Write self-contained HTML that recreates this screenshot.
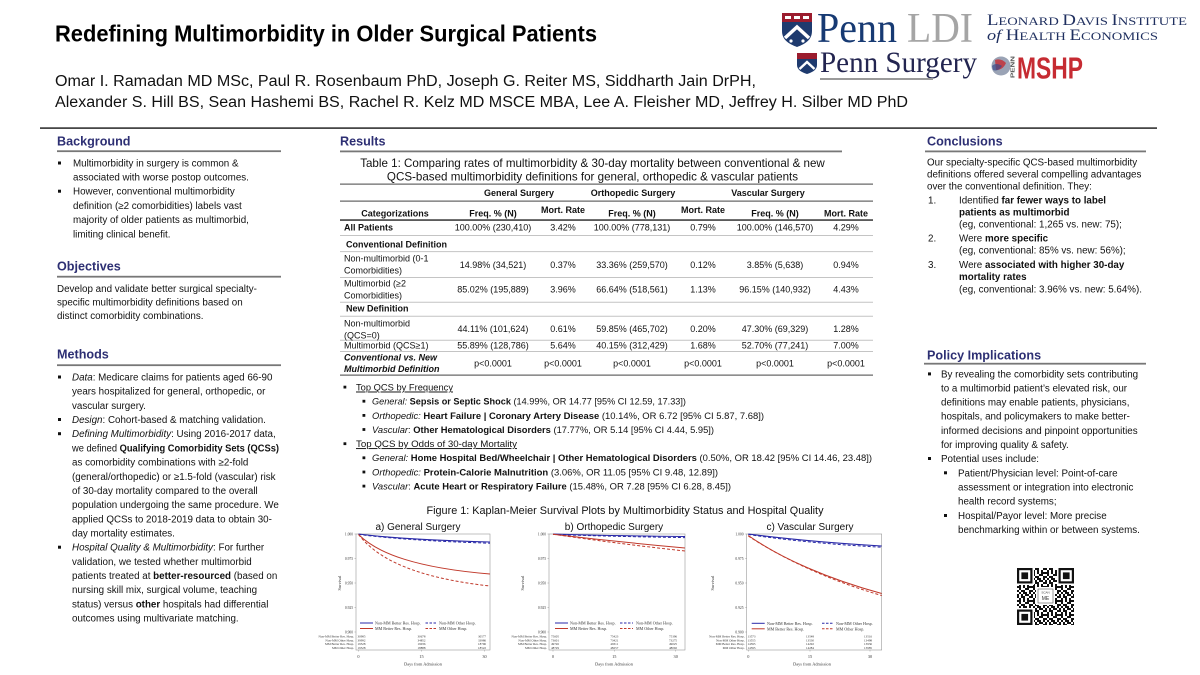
<!DOCTYPE html>
<html><head><meta charset="utf-8">
<style>
html,body{margin:0;padding:0;background:#fff;}
svg{display:block;font-family:"Liberation Sans",Arial,sans-serif;}
.b{font-size:9.8px;fill:#111;}
.r{font-size:9.6px;fill:#111;}
.h{font-size:12.6px;font-weight:bold;fill:#2d2f73;}
.t{font-size:9px;fill:#111;}
.tb{font-size:9px;fill:#111;font-weight:bold;}
.s{font-family:"Liberation Serif",serif;fill:#333;}
.sf{font-family:"Liberation Serif",serif;}
</style></head><body>
<svg width="1200" height="675" viewBox="0 0 1200 675" xmlns="http://www.w3.org/2000/svg">
<rect width="1200" height="675" fill="#fff"/>

<!-- Title & authors -->
<text x="55" y="41.5" font-size="23" font-weight="bold" fill="#000" textLength="542" lengthAdjust="spacingAndGlyphs">Redefining Multimorbidity in Older Surgical Patients</text>
<text x="55" y="86" font-size="15.5" fill="#111" textLength="701" lengthAdjust="spacingAndGlyphs">Omar I. Ramadan MD MSc, Paul R. Rosenbaum PhD, Joseph G. Reiter MS, Siddharth Jain DrPH,</text>
<text x="55" y="107" font-size="15.5" fill="#111" textLength="853" lengthAdjust="spacingAndGlyphs">Alexander S. Hill BS, Sean Hashemi BS, Rachel R. Kelz MD MSCE MBA, Lee A. Fleisher MD, Jeffrey H. Silber MD PhD</text>

<!-- Logos -->
<g>
  <path d="M782,13 H812 V31 C812,40 805,44 797,47 C789,44 782,40 782,31 Z" fill="#1e3a6e"/>
  <path d="M782,13 H812 V22 H782 Z" fill="#9b1c2e"/>
  <rect x="785" y="16" width="6" height="3" fill="#fff"/><rect x="794" y="16" width="6" height="3" fill="#fff"/><rect x="803" y="16" width="6" height="3" fill="#fff"/>
  <path d="M785,38 L797,27 L809,38" stroke="#fff" stroke-width="3.5" fill="none"/>
  <circle cx="791" cy="41" r="1.6" fill="#fff"/><circle cx="803" cy="41" r="1.6" fill="#fff"/>
  <text x="817" y="42" class="sf" font-size="42" fill="#173a73" textLength="80" lengthAdjust="spacingAndGlyphs">Penn</text>
  <text x="907" y="42" class="sf" font-size="42" fill="#a5a5a5" textLength="66" lengthAdjust="spacingAndGlyphs">LDI</text>
  <text x="987" y="25" class="sf" fill="#1f2f5f" textLength="200" lengthAdjust="spacingAndGlyphs"><tspan font-size="15.5">L</tspan><tspan font-size="12">EONARD </tspan><tspan font-size="15.5">D</tspan><tspan font-size="12">AVIS </tspan><tspan font-size="15.5">I</tspan><tspan font-size="12">NSTITUTE</tspan></text>
  <text x="987" y="40" class="sf" fill="#1f2f5f" textLength="171" lengthAdjust="spacingAndGlyphs"><tspan font-size="15" font-style="italic">of </tspan><tspan font-size="15.5">H</tspan><tspan font-size="12">EALTH </tspan><tspan font-size="15.5">E</tspan><tspan font-size="12">CONOMICS</tspan></text>

  <path d="M797,53 H817 V65 C817,70 812,72.5 807,74 C802,72.5 797,70 797,65 Z" fill="#1e3a6e"/>
  <path d="M797,53 H817 V59 H797 Z" fill="#9b1c2e"/>
  <path d="M799.5,69 L807,62 L814.5,69" stroke="#fff" stroke-width="2.4" fill="none"/>
  <text x="820" y="72" class="sf" font-size="30" fill="#232550" textLength="157" lengthAdjust="spacingAndGlyphs">Penn Surgery</text>
  <rect x="820" y="78" width="113" height="2" fill="#9a9a9a"/>

  <circle cx="1001" cy="66" r="9.5" fill="#9aa3b5"/>
  <path d="M995,60 Q1001,58 1006,63 Q1003,70 996,70 Z" fill="#c62b32" opacity=".8"/>
  <path d="M992,66 Q996,62 1002,66 Q998,72 993,70 Z" fill="#3b4a8a" opacity=".7"/>
  <text transform="translate(1014.5,78) rotate(-90)" font-size="5.5" font-weight="bold" fill="#555" textLength="22" lengthAdjust="spacingAndGlyphs">PENN</text>
  <text x="1017" y="78.5" font-size="31" font-weight="bold" fill="#c62b32" textLength="66" lengthAdjust="spacingAndGlyphs">MSHP</text>
</g>

<rect x="40" y="127.3" width="1117" height="1.6" fill="#333"/>

<!-- LEFT COLUMN -->
<text x="57" y="145.7" class="h">Background</text>
<rect x="57" y="150.3" width="224" height="1.8" fill="#777"/>
<rect x="58" y="161.5" width="3" height="3" fill="#111"/>
<rect x="58" y="189.7" width="3" height="3" fill="#111"/>
<g class="b">
<text x="73" y="166.3">Multimorbidity in surgery is common &amp;</text>
<text x="73" y="180.5">associated with worse postop outcomes.</text>
<text x="73" y="194.7">However, conventional multimorbidity</text>
<text x="73" y="208.9">definition (≥2 comorbidities) labels vast</text>
<text x="73" y="223.1">majority of older patients as multimorbid,</text>
<text x="73" y="237.3">limiting clinical benefit.</text>
</g>

<text x="57" y="270.7" class="h">Objectives</text>
<rect x="57" y="275.8" width="224" height="1.8" fill="#777"/>
<g class="b">
<text x="57" y="292">Develop and validate better surgical specialty-</text>
<text x="57" y="305.6">specific multimorbidity definitions based on</text>
<text x="57" y="319.2">distinct comorbidity combinations.</text>
</g>

<text x="57" y="358.3" class="h">Methods</text>
<rect x="57" y="364.3" width="224" height="1.8" fill="#777"/>
<rect x="58" y="375.5" width="3" height="3" fill="#111"/>
<rect x="58" y="418" width="3" height="3" fill="#111"/>
<rect x="58" y="432.2" width="3" height="3" fill="#111"/>
<rect x="58" y="545.7" width="3" height="3" fill="#111"/>
<g class="b">
<text x="72" y="380.5"><tspan font-style="italic">Data</tspan>: Medicare claims for patients aged 66-90</text>
<text x="72" y="394.7">years hospitalized for general, orthopedic, or</text>
<text x="72" y="408.9">vascular surgery.</text>
<text x="72" y="423"><tspan font-style="italic">Design</tspan>: Cohort-based &amp; matching validation.</text>
<text x="72" y="437.2"><tspan font-style="italic">Defining Multimorbidity</tspan>: Using 2016-2017 data,</text>
<text x="72" y="451.4" textLength="207" lengthAdjust="spacingAndGlyphs">we defined <tspan font-weight="bold">Qualifying Comorbidity Sets (QCSs)</tspan></text>
<text x="72" y="465.6">as comorbidity combinations with ≥2-fold</text>
<text x="72" y="479.8">(general/orthopedic) or ≥1.5-fold (vascular) risk</text>
<text x="72" y="493.9">of 30-day mortality compared to the overall</text>
<text x="72" y="508.1">population undergoing the same procedure. We</text>
<text x="72" y="522.3">applied QCSs to 2018-2019 data to obtain 30-</text>
<text x="72" y="536.5">day mortality estimates.</text>
<text x="72" y="550.7"><tspan font-style="italic">Hospital Quality &amp; Multimorbidity</tspan>: For further</text>
<text x="72" y="564.8">validation, we tested whether multimorbid</text>
<text x="72" y="579">patients treated at <tspan font-weight="bold">better-resourced</tspan> (based on</text>
<text x="72" y="593.2">nursing skill mix, surgical volume, teaching</text>
<text x="72" y="607.4">status) versus <tspan font-weight="bold">other</tspan> hospitals had differential</text>
<text x="72" y="621.6">outcomes using multivariate matching.</text>
</g>

<!-- MIDDLE COLUMN -->
<text x="340" y="145.7" class="h">Results</text>
<rect x="340" y="150.5" width="502" height="1.8" fill="#777"/>
<text x="592.5" y="167" font-size="11.6" fill="#111" text-anchor="middle">Table 1: Comparing rates of multimorbidity &amp; 30-day mortality between conventional &amp; new</text>
<text x="592.5" y="180.5" font-size="11.6" fill="#111" text-anchor="middle">QCS-based multimorbidity definitions for general, orthopedic &amp; vascular patients</text>

<!-- table lines -->
<rect x="340" y="183.6" width="533" height="1" fill="#444"/>
<rect x="340" y="200.6" width="533" height="1" fill="#444"/>
<rect x="340" y="219.3" width="533" height="1.5" fill="#333"/>
<g fill="#b5b5b5">
<rect x="340" y="235" width="533" height=".8"/>
<rect x="340" y="251.3" width="533" height=".8"/>
<rect x="340" y="277" width="533" height=".8"/>
<rect x="340" y="301.8" width="533" height=".8"/>
<rect x="340" y="315.8" width="533" height=".8"/>
<rect x="340" y="339.8" width="533" height=".8"/>
<rect x="340" y="351" width="533" height=".8"/>
</g>
<rect x="340" y="374.6" width="533" height="1" fill="#444"/>

<g class="tb" text-anchor="middle">
<text x="519" y="196">General Surgery</text>
<text x="633" y="196">Orthopedic Surgery</text>
<text x="768" y="196">Vascular Surgery</text>
<text x="395" y="216.5">Categorizations</text>
<text x="493" y="216.5">Freq. % (N)</text>
<text x="563" y="213">Mort. Rate</text>
<text x="632" y="216.5">Freq. % (N)</text>
<text x="703" y="213">Mort. Rate</text>
<text x="775" y="216.5">Freq. % (N)</text>
<text x="846" y="216.5">Mort. Rate</text>
</g>
<g class="t">
<text x="344" y="230.5" font-weight="bold">All Patients</text>
<text x="346" y="247.5" font-weight="bold">Conventional Definition</text>
<text x="344" y="261.5">Non-multimorbid (0-1</text>
<text x="344" y="273.5">Comorbidities)</text>
<text x="344" y="286.5">Multimorbid (≥2</text>
<text x="344" y="298.5">Comorbidities)</text>
<text x="346" y="311.5" font-weight="bold">New Definition</text>
<text x="344" y="326.5">Non-multimorbid</text>
<text x="344" y="338.5">(QCS=0)</text>
<text x="344" y="348.5">Multimorbid (QCS≥1)</text>
<text x="344" y="360.5" font-weight="bold" font-style="italic">Conventional vs. New</text>
<text x="344" y="372" font-weight="bold" font-style="italic">Multimorbid Definition</text>
</g>
<g class="t" text-anchor="middle">
<text x="493" y="230.5">100.00% (230,410)</text><text x="563" y="230.5">3.42%</text><text x="632" y="230.5">100.00% (778,131)</text><text x="703" y="230.5">0.79%</text><text x="775" y="230.5">100.00% (146,570)</text><text x="846" y="230.5">4.29%</text>
<text x="493" y="268">14.98% (34,521)</text><text x="563" y="268">0.37%</text><text x="632" y="268">33.36% (259,570)</text><text x="703" y="268">0.12%</text><text x="775" y="268">3.85% (5,638)</text><text x="846" y="268">0.94%</text>
<text x="493" y="292.5">85.02% (195,889)</text><text x="563" y="292.5">3.96%</text><text x="632" y="292.5">66.64% (518,561)</text><text x="703" y="292.5">1.13%</text><text x="775" y="292.5">96.15% (140,932)</text><text x="846" y="292.5">4.43%</text>
<text x="493" y="332">44.11% (101,624)</text><text x="563" y="332">0.61%</text><text x="632" y="332">59.85% (465,702)</text><text x="703" y="332">0.20%</text><text x="775" y="332">47.30% (69,329)</text><text x="846" y="332">1.28%</text>
<text x="493" y="348.5">55.89% (128,786)</text><text x="563" y="348.5">5.64%</text><text x="632" y="348.5">40.15% (312,429)</text><text x="703" y="348.5">1.68%</text><text x="775" y="348.5">52.70% (77,241)</text><text x="846" y="348.5">7.00%</text>
<text x="493" y="366.5">p&lt;0.0001</text><text x="563" y="366.5">p&lt;0.0001</text><text x="632" y="366.5">p&lt;0.0001</text><text x="703" y="366.5">p&lt;0.0001</text><text x="775" y="366.5">p&lt;0.0001</text><text x="846" y="366.5">p&lt;0.0001</text>
</g>

<!-- Results bullets -->
<g fill="#111">
<rect x="343.5" y="385.7" width="2.8" height="2.8"/>
<rect x="362.5" y="399.8" width="2.8" height="2.8"/>
<rect x="362.5" y="414" width="2.8" height="2.8"/>
<rect x="362.5" y="428.1" width="2.8" height="2.8"/>
<rect x="343.5" y="442.3" width="2.8" height="2.8"/>
<rect x="362.5" y="456.4" width="2.8" height="2.8"/>
<rect x="362.5" y="470.6" width="2.8" height="2.8"/>
<rect x="362.5" y="484.7" width="2.8" height="2.8"/>
</g>
<g class="r">
<text x="356" y="390.5" text-decoration="underline" textLength="97" lengthAdjust="spacingAndGlyphs">Top QCS by Frequency</text>
<text x="372" y="404.6" textLength="314" lengthAdjust="spacingAndGlyphs"><tspan font-style="italic">General:</tspan> <tspan font-weight="bold">Sepsis or Septic Shock</tspan> (14.99%, OR 14.77 [95% CI 12.59, 17.33])</text>
<text x="372" y="418.8" textLength="392" lengthAdjust="spacingAndGlyphs"><tspan font-style="italic">Orthopedic:</tspan> <tspan font-weight="bold">Heart Failure | Coronary Artery Disease</tspan> (10.14%, OR 6.72 [95% CI 5.87, 7.68])</text>
<text x="372" y="432.9" textLength="342" lengthAdjust="spacingAndGlyphs"><tspan font-style="italic">Vascular</tspan>: <tspan font-weight="bold">Other Hematological Disorders</tspan> (17.77%, OR 5.14 [95% CI 4.44, 5.95])</text>
<text x="356" y="447.1" text-decoration="underline" textLength="161" lengthAdjust="spacingAndGlyphs">Top QCS by Odds of 30-day Mortality</text>
<text x="372" y="461.2" textLength="500" lengthAdjust="spacingAndGlyphs"><tspan font-style="italic">General:</tspan> <tspan font-weight="bold">Home Hospital Bed/Wheelchair | Other Hematological Disorders</tspan> (0.50%, OR 18.42 [95% CI 14.46, 23.48])</text>
<text x="372" y="475.4" textLength="346" lengthAdjust="spacingAndGlyphs"><tspan font-style="italic">Orthopedic:</tspan> <tspan font-weight="bold">Protein-Calorie Malnutrition</tspan> (3.06%, OR 11.05 [95% CI 9.48, 12.89])</text>
<text x="372" y="489.5" textLength="359" lengthAdjust="spacingAndGlyphs"><tspan font-style="italic">Vascular</tspan>: <tspan font-weight="bold">Acute Heart or Respiratory Failure</tspan> (15.48%, OR 7.28 [95% CI 6.28, 8.45])</text>
</g>

<text x="625" y="514" font-size="10.7" fill="#111" text-anchor="middle" textLength="397" lengthAdjust="spacingAndGlyphs">Figure 1: Kaplan-Meier Survival Plots by Multimorbidity Status and Hospital Quality</text>
<g font-size="10" fill="#111" text-anchor="middle">
<text x="418" y="530">a) General Surgery</text>
<text x="614" y="530">b) Orthopedic Surgery</text>
<text x="810" y="530">c) Vascular Surgery</text>
</g>

<!-- Plot a -->
<g>
<rect x="356" y="534" width="134" height="116" fill="none" stroke="#999" stroke-width=".6"/>
<g stroke="#999" stroke-width=".5"><path d="M356,534h-1.5M356,558.5h-1.5M356,583h-1.5M356,607.5h-1.5M356,632h-1.5M358.5,650v1.5M421.5,650v1.5M484.5,650v1.5"/></g>
<g class="s" font-size="3.6" text-anchor="end"><text x="353" y="535.3">1.000</text><text x="353" y="559.8">0.975</text><text x="353" y="584.3">0.950</text><text x="353" y="608.8">0.925</text><text x="353" y="633.3">0.900</text></g>
<text class="s" font-size="4.4" transform="translate(341,583) rotate(-90)" text-anchor="middle">Survival</text>
<path d="M358.5,534 C378,536.5 418,540 490,542" stroke="#2a2aa8" stroke-width="1.1" fill="none"/>
<path d="M358.5,534.4 C378,537 418,541 490,543.2" stroke="#2a2aa8" stroke-width="1" fill="none" stroke-dasharray="3,2"/>
<path d="M358.5,534.5 C378.2,554 417.7,568 490,574" stroke="#c0392b" stroke-width="1" fill="none"/>
<path d="M358.5,534.5 C378.2,560 417.7,578 490,586" stroke="#c0392b" stroke-width="1" fill="none" stroke-dasharray="3,2"/>
<path d="M360,623 h13" stroke="#2a2aa8" stroke-width="1"/><path d="M425.5,623 h12" stroke="#2a2aa8" stroke-width="1" stroke-dasharray="2.5,1.5"/>
<path d="M360,628.5 h13" stroke="#c0392b" stroke-width="1"/><path d="M425.5,628.5 h12" stroke="#c0392b" stroke-width="1" stroke-dasharray="2.5,1.5"/>
<g class="s" font-size="4.1"><text x="375" y="624.5">Non-MM Better Res. Hosp.</text><text x="439" y="624.5">Non-MM Other Hosp.</text><text x="375" y="630">MM Better Res. Hosp.</text><text x="439" y="630">MM Other Hosp.</text></g>
<g class="s" font-size="3.2">
<g text-anchor="end"><text x="354" y="637.5">Non-MM Better Res. Hosp.</text><text x="354" y="641.3">Non-MM Other Hosp.</text><text x="354" y="645.1">MM Better Res. Hosp.</text><text x="354" y="648.9">MM Other Hosp.</text></g>
<g><text x="357.5" y="637.5">30985</text><text x="357.5" y="641.3">39992</text><text x="357.5" y="645.1">19528</text><text x="357.5" y="648.9">19528</text></g>
<g text-anchor="middle"><text x="421.5" y="637.5">30678</text><text x="421.5" y="641.3">34852</text><text x="421.5" y="645.1">19036</text><text x="421.5" y="648.9">18888</text></g>
<g text-anchor="end"><text x="486" y="637.5">30577</text><text x="486" y="641.3">33986</text><text x="486" y="645.1">18796</text><text x="486" y="648.9">18522</text></g>
</g>
<g class="s" font-size="4.3" text-anchor="middle"><text x="358.5" y="658">0</text><text x="421.5" y="658">15</text><text x="484.5" y="658">30</text><text x="423" y="665.5">Days from Admission</text></g>
</g>

<!-- Plot b -->
<g>
<rect x="549" y="534" width="136" height="116" fill="none" stroke="#999" stroke-width=".6"/>
<g stroke="#999" stroke-width=".5"><path d="M549,534h-1.5M549,558.5h-1.5M549,583h-1.5M549,607.5h-1.5M549,632h-1.5M553,650v1.5M614.3,650v1.5M675.7,650v1.5"/></g>
<g class="s" font-size="3.6" text-anchor="end"><text x="546" y="535.3">1.000</text><text x="546" y="559.8">0.975</text><text x="546" y="584.3">0.950</text><text x="546" y="608.8">0.925</text><text x="546" y="633.3">0.900</text></g>
<text class="s" font-size="4.4" transform="translate(524,583) rotate(-90)" text-anchor="middle">Survival</text>
<path d="M553,534 C575,534.8 620,535.8 685,536.5" stroke="#2a2aa8" stroke-width="1.1" fill="none"/>
<path d="M553,534.4 C575,535.3 620,536.6 685,537.6" stroke="#2a2aa8" stroke-width="1" fill="none" stroke-dasharray="3,2"/>
<path d="M553,534.2 C592.6,538.9 638.8,543.8 685,548" stroke="#c0392b" stroke-width="1" fill="none"/>
<path d="M553,534.2 C592.6,540 638.8,546 685,551" stroke="#c0392b" stroke-width="1" fill="none" stroke-dasharray="3,2"/>
<path d="M555,623 h13" stroke="#2a2aa8" stroke-width="1"/><path d="M620,623 h13" stroke="#2a2aa8" stroke-width="1" stroke-dasharray="2.5,1.5"/>
<path d="M555,628.5 h13" stroke="#c0392b" stroke-width="1"/><path d="M620,628.5 h13" stroke="#c0392b" stroke-width="1" stroke-dasharray="2.5,1.5"/>
<g class="s" font-size="4.1"><text x="570" y="624.5">Non-MM Better Res. Hosp.</text><text x="636" y="624.5">Non-MM Other Hosp.</text><text x="570" y="630">MM Better Res. Hosp.</text><text x="636" y="630">MM Other Hosp.</text></g>
<g class="s" font-size="3.2">
<g text-anchor="end"><text x="547" y="637.5">Non-MM Better Res. Hosp.</text><text x="547" y="641.3">Non-MM Other Hosp.</text><text x="547" y="645.1">MM Better Res. Hosp.</text><text x="547" y="648.9">MM Other Hosp.</text></g>
<g><text x="551" y="637.5">75605</text><text x="551" y="641.3">73601</text><text x="551" y="645.1">49726</text><text x="551" y="648.9">48729</text></g>
<g text-anchor="middle"><text x="614.3" y="637.5">75423</text><text x="614.3" y="641.3">73421</text><text x="614.3" y="645.1">49311</text><text x="614.3" y="648.9">48257</text></g>
<g text-anchor="end"><text x="677" y="637.5">75396</text><text x="677" y="641.3">73275</text><text x="677" y="645.1">49025</text><text x="677" y="648.9">48092</text></g>
</g>
<g class="s" font-size="4.3" text-anchor="middle"><text x="553" y="658">0</text><text x="614.3" y="658">15</text><text x="675.7" y="658">30</text><text x="614" y="665.5">Days from Admission</text></g>
</g>

<!-- Plot c -->
<g>
<rect x="746.7" y="534" width="135" height="116" fill="none" stroke="#999" stroke-width=".6"/>
<g stroke="#999" stroke-width=".5"><path d="M746.7,534h-1.5M746.7,558.5h-1.5M746.7,583h-1.5M746.7,607.5h-1.5M746.7,632h-1.5M748.3,650v1.5M810,650v1.5M870,650v1.5"/></g>
<g class="s" font-size="3.6" text-anchor="end"><text x="743.5" y="535.3">1.000</text><text x="743.5" y="559.8">0.975</text><text x="743.5" y="584.3">0.950</text><text x="743.5" y="608.8">0.925</text><text x="743.5" y="633.3">0.900</text></g>
<text class="s" font-size="4.4" transform="translate(714,583) rotate(-90)" text-anchor="middle">Survival</text>
<path d="M748.3,534 C775,537.5 820,542.5 881.7,546" stroke="#2a2aa8" stroke-width="1.1" fill="none"/>
<path d="M748.3,534.5 C775,538.5 820,544 881.7,547.2" stroke="#2a2aa8" stroke-width="1" fill="none" stroke-dasharray="3,2"/>
<path d="M748.3,535.5 C781.7,558.7 828.3,579 881.7,593.5" stroke="#c0392b" stroke-width="1" fill="none"/>
<path d="M748.3,536 C781.7,558 828.3,580.2 881.7,595.5" stroke="#c0392b" stroke-width="1" fill="none" stroke-dasharray="3,2"/>
<path d="M751.7,623.3 h13" stroke="#2a2aa8" stroke-width="1"/><path d="M822,623.3 h12" stroke="#2a2aa8" stroke-width="1" stroke-dasharray="2.5,1.5"/>
<path d="M751.7,628.8 h13" stroke="#c0392b" stroke-width="1"/><path d="M822,628.8 h12" stroke="#c0392b" stroke-width="1" stroke-dasharray="2.5,1.5"/>
<g class="s" font-size="4.1"><text x="767" y="624.8">Non-MM Better Res. Hosp.</text><text x="836" y="624.8">Non-MM Other Hosp.</text><text x="767" y="630.3">MM Better Res. Hosp.</text><text x="836" y="630.3">MM Other Hosp.</text></g>
<g class="s" font-size="3.2">
<g text-anchor="end"><text x="744.7" y="637.5">Non-MM Better Res. Hosp.</text><text x="744.7" y="641.3">Non-MM Other Hosp.</text><text x="744.7" y="645.1">MM Better Res. Hosp.</text><text x="744.7" y="648.9">MM Other Hosp.</text></g>
<g><text x="747.5" y="637.5">13573</text><text x="747.5" y="641.3">13555</text><text x="747.5" y="645.1">14595</text><text x="747.5" y="648.9">14595</text></g>
<g text-anchor="middle"><text x="810" y="637.5">13548</text><text x="810" y="641.3">13530</text><text x="810" y="645.1">14292</text><text x="810" y="648.9">14284</text></g>
<g text-anchor="end"><text x="872" y="637.5">13516</text><text x="872" y="641.3">13498</text><text x="872" y="645.1">13936</text><text x="872" y="648.9">13985</text></g>
</g>
<g class="s" font-size="4.3" text-anchor="middle"><text x="748.3" y="658">0</text><text x="810" y="658">15</text><text x="870" y="658">30</text><text x="812" y="665.5">Days from Admission</text></g>
</g>

<!-- RIGHT COLUMN -->
<text x="927" y="145.7" class="h">Conclusions</text>
<rect x="925" y="150.5" width="221" height="1.8" fill="#777"/>
<g class="b">
<text x="927" y="165.7">Our specialty-specific QCS-based multimorbidity</text>
<text x="927" y="177.6">definitions offered several compelling advantages</text>
<text x="927" y="189.4">over the conventional definition. They:</text>
<text x="928" y="203.7">1.</text>
<text x="959" y="203.7">Identified <tspan font-weight="bold">far fewer ways to label</tspan></text>
<text x="959" y="215.7" font-weight="bold">patients as multimorbid</text>
<text x="959" y="227.6">(eg, conventional: 1,265 vs. new: 75);</text>
<text x="928" y="241.3">2.</text>
<text x="959" y="241.3">Were <tspan font-weight="bold">more specific</tspan></text>
<text x="959" y="253.6">(eg, conventional: 85% vs. new: 56%);</text>
<text x="928" y="268">3.</text>
<text x="959" y="268">Were <tspan font-weight="bold">associated with higher 30-day</tspan></text>
<text x="959" y="280" font-weight="bold">mortality rates</text>
<text x="959" y="292.5">(eg, conventional: 3.96% vs. new: 5.64%).</text>
</g>

<text x="927" y="359.3" class="h">Policy Implications</text>
<rect x="924" y="362.8" width="222" height="1.8" fill="#777"/>
<g fill="#111">
<rect x="928" y="372.4" width="3" height="3"/>
<rect x="928" y="457" width="3" height="3"/>
<rect x="944" y="471.3" width="3" height="3"/>
<rect x="944" y="514" width="3" height="3"/>
</g>
<g class="b">
<text x="941" y="377.3">By revealing the comorbidity sets contributing</text>
<text x="941" y="391.4">to a multimorbid patient’s elevated risk, our</text>
<text x="941" y="405.6">definitions may enable patients, physicians,</text>
<text x="941" y="419.7">hospitals, and policymakers to make better-</text>
<text x="941" y="433.8">informed decisions and pinpoint opportunities</text>
<text x="941" y="448">for improving quality &amp; safety.</text>
<text x="941" y="462">Potential uses include:</text>
<text x="958" y="476.3">Patient/Physician level: Point-of-care</text>
<text x="958" y="490.4">assessment or integration into electronic</text>
<text x="958" y="504.6">health record systems;</text>
<text x="958" y="518.8">Hospital/Payor level: More precise</text>
<text x="958" y="533">benchmarking within or between systems.</text>
</g>

<!-- QR code -->
<defs>
<pattern id="qrp" patternUnits="userSpaceOnUse" x="1017" y="568" width="14" height="14">
<g fill="#111">
<rect x="0" y="0" width="2" height="2"/><rect x="4" y="0" width="4" height="2"/><rect x="12" y="0" width="2" height="2"/>
<rect x="2" y="2" width="2" height="2"/><rect x="6" y="2" width="2" height="4"/><rect x="10" y="2" width="2" height="2"/>
<rect x="0" y="4" width="4" height="2"/><rect x="10" y="4" width="4" height="2"/>
<rect x="2" y="6" width="2" height="2"/><rect x="8" y="6" width="4" height="2"/>
<rect x="0" y="8" width="2" height="2"/><rect x="4" y="8" width="4" height="2"/><rect x="12" y="8" width="2" height="4"/>
<rect x="2" y="10" width="2" height="2"/><rect x="6" y="10" width="2" height="2"/><rect x="8" y="10" width="2" height="2"/>
<rect x="0" y="12" width="2" height="2"/><rect x="4" y="12" width="2" height="2"/><rect x="8" y="12" width="4" height="2"/>
</g>
</pattern>
</defs>
<rect x="1017" y="568" width="57" height="57" fill="url(#qrp)"/>
<g>
<rect x="1016" y="567" width="18" height="18" fill="#fff"/><rect x="1017" y="568" width="15.5" height="15.5" fill="#111"/><rect x="1019.2" y="570.2" width="11.1" height="11.1" fill="#fff"/><rect x="1021.4" y="572.4" width="6.7" height="6.7" fill="#111"/>
<rect x="1057" y="567" width="18" height="18" fill="#fff"/><rect x="1058.5" y="568" width="15.5" height="15.5" fill="#111"/><rect x="1060.7" y="570.2" width="11.1" height="11.1" fill="#fff"/><rect x="1062.9" y="572.4" width="6.7" height="6.7" fill="#111"/>
<rect x="1016" y="608" width="18" height="18" fill="#fff"/><rect x="1017" y="609.5" width="15.5" height="15.5" fill="#111"/><rect x="1019.2" y="611.7" width="11.1" height="11.1" fill="#fff"/><rect x="1021.4" y="613.9" width="6.7" height="6.7" fill="#111"/>
<rect x="1036" y="587" width="19" height="18" fill="#fff"/>
<rect x="1038" y="589" width="15" height="14" fill="none" stroke="#555" stroke-width=".6"/>
<text x="1045.5" y="593.5" font-size="3" fill="#444" text-anchor="middle">SCAN</text>
<text x="1045.5" y="600" font-size="5" fill="#333" text-anchor="middle">ME</text>
</g>

</svg>
</body></html>
